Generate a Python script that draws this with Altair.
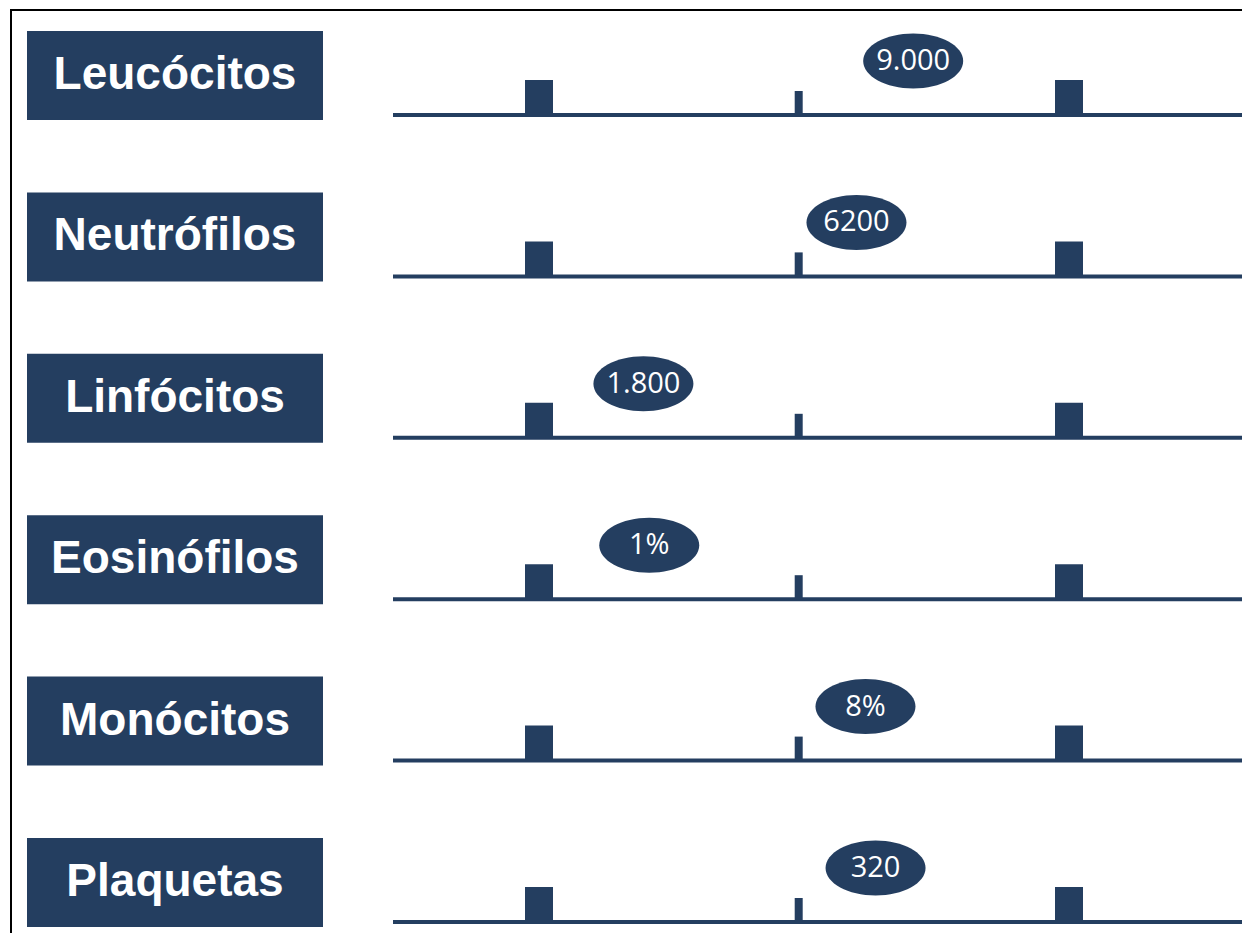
import altair as alt
import pandas as pd

# ---- data ----
categories = ["Leucócitos", "Neutrófilos", "Linfócitos", "Eosinófilos", "Monócitos", "Plaquetas"]
value_labels = ["9.000", "6200", "1.800", "1%", "8%", "320"]
# position of the result between the low (0) and high (1) reference markers
value_pos = [0.706, 0.599, 0.197, 0.208, 0.616, 0.635]
range_marks = [0.0, 1.0]   # low / high reference limits
mid_marks = [0.49]         # middle of the reference range

NAVY = "#243E60"

rows = pd.DataFrame({
    "cat": categories,
    "row": list(range(len(categories))),
    "label": value_labels,
    "pos": value_pos,
})
lim = pd.DataFrame([{"row": r, "pos": p} for r in rows["row"] for p in range_marks])
mid = pd.DataFrame([{"row": r, "pos": p} for r in rows["row"] for p in mid_marks])

X = alt.X("pos:Q", axis=None, scale=alt.Scale(domain=[0, 1], range=[531, 1061], nice=False, zero=False))
Y = alt.Y("row:Q", axis=None, scale=alt.Scale(domain=[0, 5], range=[107, 914], nice=False, zero=False))
Y2 = alt.Y2("row:Q")

ellipse = ("M-1,0 C-1,-0.3038 -0.5523,-0.55 0,-0.55 C0.5523,-0.55 1,-0.3038 1,0 "
           "C1,0.3038 0.5523,0.55 0,0.55 C-0.5523,0.55 -1,0.3038 -1,0 Z")

base_rows = alt.Chart(rows)

border_top = alt.Chart(rows).mark_rule(color="black", strokeWidth=2).encode(
    x=alt.value(3), x2=alt.value(1260), y=alt.value(2))
border_left = alt.Chart(rows).mark_rule(color="black", strokeWidth=2).encode(
    x=alt.value(3), y=alt.value(1), y2=alt.value(940))

baseline = base_rows.mark_rule(color=NAVY, strokeWidth=4).encode(
    x=alt.value(385), x2=alt.value(1236), y=Y)

limits = alt.Chart(lim).mark_rule(color=NAVY, strokeWidth=28, strokeCap="butt",
                                  yOffset=-35, y2Offset=1).encode(x=X, y=Y, y2=Y2)
mids = alt.Chart(mid).mark_rule(color=NAVY, strokeWidth=8, strokeCap="butt",
                                yOffset=-24, y2Offset=0).encode(x=X, y=Y, y2=Y2)

boxes = base_rows.mark_rect(color=NAVY, yOffset=-84, y2Offset=5).encode(
    x=alt.value(19), x2=alt.value(315), y=Y, y2=Y2)
box_text = base_rows.mark_text(font="Liberation Sans", fontWeight="bold", fontSize=46,
                               color="white", yOffset=-40, align="center",
                               baseline="middle").encode(
    x=alt.value(167), y=Y, text="cat:N")

bubbles = base_rows.mark_point(shape=ellipse, size=100 * 100, filled=True, fill=NAVY,
                               opacity=1, strokeOpacity=0, yOffset=-54).encode(x=X, y=Y)
bubble_text = base_rows.mark_text(font="Open Sans", fontSize=29, color="white",
                                  yOffset=-54, align="center", baseline="middle").encode(
    x=X, y=Y, text="label:N")

chart = alt.layer(
    border_top, border_left, baseline, limits, mids, boxes, box_text, bubbles, bubble_text
).properties(
    width=1234, height=925, padding=0, autosize="none", background="white"
).configure_view(stroke=None)

chart.save("out.html", embed_options={"renderer": "svg", "actions": False})
